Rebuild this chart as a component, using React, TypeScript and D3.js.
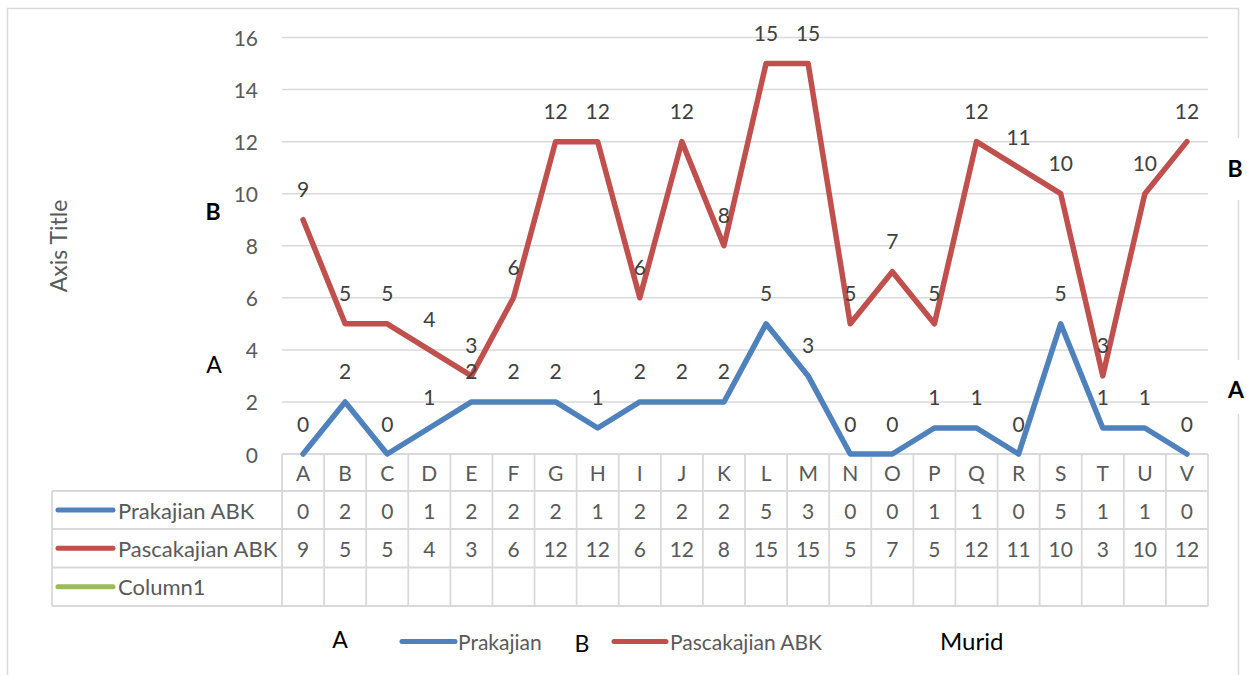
import React from "react";
import * as d3 from "d3";

const categories = ["A","B","C","D","E","F","G","H","I","J","K","L","M","N","O","P","Q","R","S","T","U","V"];
const prakajian = [0,2,0,1,2,2,2,1,2,2,2,5,3,0,0,1,1,0,5,1,1,0];
const pascakajian = [9,5,5,4,3,6,12,12,6,12,8,15,15,5,7,5,12,11,10,3,10,12];
const yTicks = [0,2,4,6,8,10,12,14,16];
const seriesNames = ["Prakajian ABK","Pascakajian ABK","Column1"];
const legendNames = ["Prakajian","Pascakajian ABK"];

const BLUE = "#4F81BD";
const RED = "#C0504D";
const GREEN = "#9BBB59";
const GRID = "#D9D9D9";
const TXT = "#595959";
const LBL = "#404040";
const FONT = "Lato, 'Open Sans', sans-serif";

export default function App() {
  const x = d3.scaleBand<string>().domain(categories).range([282, 1208]).padding(0);
  const y = d3.scaleLinear().domain([0, 16]).range([454, 37.5]);
  const cx = (c: string) => (x(c) as number) + x.bandwidth() / 2;
  const line = d3.line<number>().x((_, i) => cx(categories[i])).y((v) => y(v));

  const tableLeft = 52;
  const plotLeft = 282;
  const plotRight = 1208;
  const rows = [454, 491, 529, 567.5, 606];
  const rowMid = (i: number) => (rows[i] + rows[i + 1]) / 2;
  const seriesData = [prakajian, pascakajian, null];
  const seriesColors = [BLUE, RED, GREEN];

  return (
    <svg width={1247} height={675} style={{ position: "absolute", left: 0, top: 0, background: "#fff" }} fontFamily={FONT}>
      <rect x={7.5} y={8.5} width={1231} height={720} fill="#fff" stroke={GRID} strokeWidth={1.5} />
      {/* gridlines */}
      {yTicks.filter((t) => t > 0).map((t) => (
        <line key={t} x1={plotLeft} x2={plotRight} y1={y(t)} y2={y(t)} stroke={GRID} strokeWidth={1.5} />
      ))}
      {/* y tick labels */}
      {yTicks.map((t) => (
        <text key={t} x={258} y={y(t)} textAnchor="end" dominantBaseline="central" fontSize={21} fill={TXT}>{t}</text>
      ))}
      {/* axis title */}
      <text transform={`translate(58,246) rotate(-90)`} textAnchor="middle" dominantBaseline="central" fontSize={23} fill={TXT}>Axis Title</text>

      {/* data table */}
      <g stroke={GRID} strokeWidth={1.8} fill="none">
        <line x1={plotLeft} x2={plotRight} y1={rows[0]} y2={rows[0]} />
        {rows.slice(1).map((r) => (
          <line key={r} x1={tableLeft} x2={plotRight} y1={r} y2={r} />
        ))}
        <line x1={tableLeft} x2={tableLeft} y1={rows[1]} y2={rows[4]} />
        {categories.map((c) => (
          <line key={c} x1={x(c) as number} x2={x(c) as number} y1={rows[0]} y2={rows[4]} />
        ))}
        <line x1={plotRight} x2={plotRight} y1={rows[0]} y2={rows[4]} />
      </g>
      {categories.map((c) => (
        <text key={c} x={cx(c)} y={rowMid(0)} textAnchor="middle" dominantBaseline="central" fontSize={21} fill={TXT}>{c}</text>
      ))}
      {seriesNames.map((n, si) => (
        <g key={n}>
          <line x1={58} x2={113} y1={rowMid(si + 1)} y2={rowMid(si + 1)} stroke={seriesColors[si]} strokeWidth={5} strokeLinecap="round" />
          <text x={118} y={rowMid(si + 1)} dominantBaseline="central" fontSize={22} fill={TXT}>{n}</text>
          {seriesData[si] && (seriesData[si] as number[]).map((v, i) => (
            <text key={i} x={cx(categories[i])} y={rowMid(si + 1)} textAnchor="middle" dominantBaseline="central" fontSize={21} fill={TXT}>{v}</text>
          ))}
        </g>
      ))}

      {/* lines */}
      <path d={line(pascakajian) as string} fill="none" stroke={RED} strokeWidth={5.5} strokeLinejoin="round" strokeLinecap="round" />
      <path d={line(prakajian) as string} fill="none" stroke={BLUE} strokeWidth={5.5} strokeLinejoin="round" strokeLinecap="round" />

      {/* data labels */}
      {prakajian.map((v, i) => (
        <text key={"p" + i} x={cx(categories[i])} y={y(v) - 31} textAnchor="middle" dominantBaseline="central" fontSize={21} fill={LBL}>{v}</text>
      ))}
      {pascakajian.map((v, i) => (
        <text key={"q" + i} x={cx(categories[i])} y={y(v) - 31} textAnchor="middle" dominantBaseline="central" fontSize={21} fill={LBL}>{v}</text>
      ))}

      {/* annotation boxes */}
      <rect x={1208} y={138} width={39} height={62} fill="#fff" />
      <rect x={1208} y={360} width={39} height={54} fill="#fff" />
      <text x={1235} y={168} textAnchor="middle" dominantBaseline="central" fontSize={23} fontWeight="bold" fill="#000">B</text>
      <text x={1236} y={389} textAnchor="middle" dominantBaseline="central" fontSize={23} fontWeight="bold" fill="#000">A</text>
      <text x={213} y={211} textAnchor="middle" dominantBaseline="central" fontSize={23} fontWeight="bold" fill="#000">B</text>
      <text x={214} y={364} textAnchor="middle" dominantBaseline="central" fontSize={23} fill="#000">A</text>

      {/* bottom */}
      <text x={340} y={639} textAnchor="middle" dominantBaseline="central" fontSize={23} fill="#000">A</text>
      <line x1={402} x2={455} y1={641.5} y2={641.5} stroke={BLUE} strokeWidth={5} strokeLinecap="round" />
      <text x={458} y={641} dominantBaseline="central" fontSize={21} fill={TXT}>{legendNames[0]}</text>
      <text x={582} y={643} textAnchor="middle" dominantBaseline="central" fontSize={23} fill="#000">B</text>
      <line x1={614} x2={666} y1={641.5} y2={641.5} stroke={RED} strokeWidth={5} strokeLinecap="round" />
      <text x={670} y={641} dominantBaseline="central" fontSize={21} fill={TXT}>{legendNames[1]}</text>
      <text x={940} y={640} dominantBaseline="central" fontSize={24} fill="#000">Murid</text>
    </svg>
  );
}
